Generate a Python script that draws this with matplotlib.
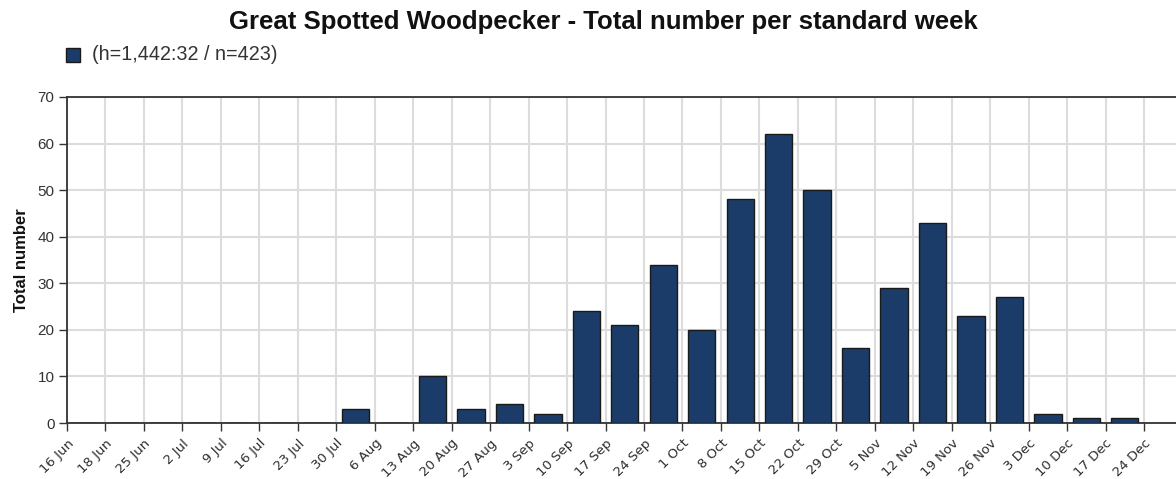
import matplotlib

matplotlib.use("Agg")
import matplotlib.pyplot as plt
from matplotlib.patches import Rectangle

# week labels sit on the bin edges; one count per bin
week_labels = [
    "16 Jun", "18 Jun", "25 Jun", "2 Jul", "9 Jul", "16 Jul", "23 Jul", "30 Jul",
    "6 Aug", "13 Aug", "20 Aug", "27 Aug", "3 Sep", "10 Sep", "17 Sep", "24 Sep",
    "1 Oct", "8 Oct", "15 Oct", "22 Oct", "29 Oct", "5 Nov", "12 Nov", "19 Nov",
    "26 Nov", "3 Dec", "10 Dec", "17 Dec", "24 Dec",
]
counts = [
    0, 0, 0, 0, 0, 0, 0, 3, 0, 10, 3, 4, 2, 24, 21, 34,
    20, 48, 62, 50, 16, 29, 43, 23, 27, 2, 1, 1,
]
legend_label = "(h=1,442:32 / n=423)"
title = "Great Spotted Woodpecker - Total number per standard week"
y_ticks = [0, 10, 20, 30, 40, 50, 60, 70]

BAR = "#1b3c68"
EDGE = "#1a1a1a"
GRID = "#dcdcdc"
TXT = "#333333"

plt.rcParams["font.family"] = ["Liberation Sans", "DejaVu Sans"]

fig = plt.figure(figsize=(11.76, 4.79), dpi=100)
ax = fig.add_axes([0.0570, 0.1169, 0.9430, 0.6806])

centers = [i + 0.5 for i in range(len(counts))]
ax.bar(centers, counts, width=0.71, color=BAR, edgecolor=EDGE, linewidth=1.0, zorder=3)

ax.set_xlim(0, 28.83)
ax.set_ylim(0, 70)
ax.set_xticks(range(len(week_labels)))
ax.set_xticklabels(week_labels, rotation=45, ha="right", rotation_mode="anchor",
                   fontsize=9.5, color="#2e2e2e", family="DejaVu Sans")
ax.set_yticks(y_ticks)
ax.tick_params(axis="y", labelsize=11, colors=TXT, length=6, width=1, pad=3)
ax.tick_params(axis="x", length=6, width=1, color="#333333", pad=4)
ax.grid(True, color=GRID, linewidth=1.5, zorder=0)
ax.set_axisbelow(True)

for side in ("left", "bottom", "top"):
    ax.spines[side].set_color("#333333")
    ax.spines[side].set_linewidth(1.3)
ax.spines["right"].set_visible(False)

ax.set_ylabel("Total number", fontsize=12, fontweight="bold", color="#111111", labelpad=6)

fig.text(0.513, 0.955, title, ha="center", va="center", fontsize=18.5, fontweight="bold",
         color="#111111")

# legend swatch + label
fig.patches.append(Rectangle((66 / 1176, 1 - 62 / 479), 14 / 1176, 14 / 479,
                             transform=fig.transFigure, facecolor=BAR,
                             edgecolor=EDGE, linewidth=1.0))
fig.text(92 / 1176, 1 - 55 / 479, legend_label, ha="left", va="center",
         fontsize=14.2, color=TXT)

fig.savefig("out.png", dpi=100, facecolor="white")
